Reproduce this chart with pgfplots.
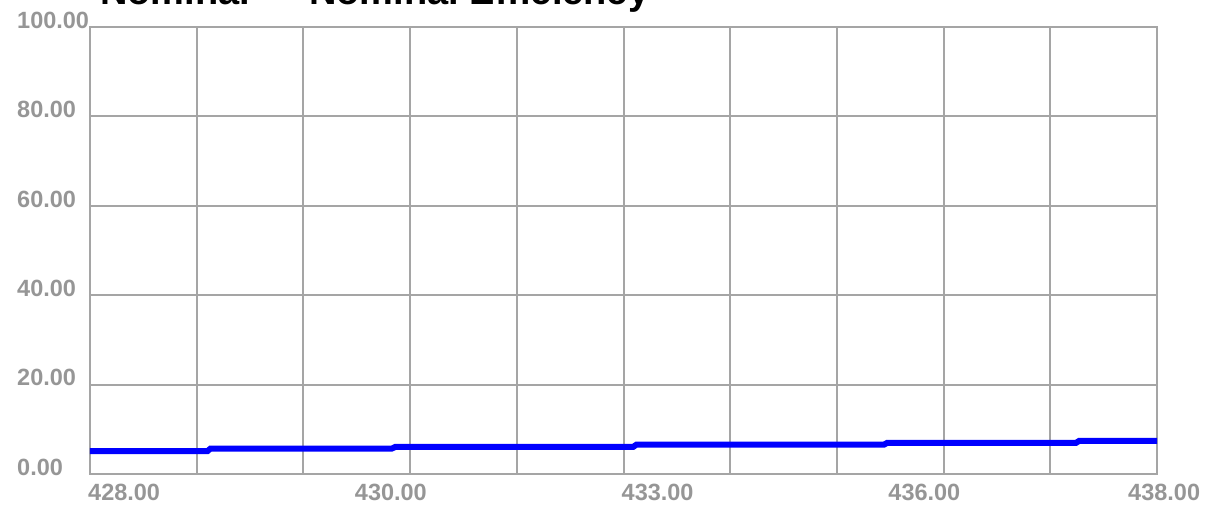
\documentclass[border=0pt]{standalone}
\usepackage{pgfplots}
\pgfplotsset{compat=1.18}
\usepackage{fontspec}
\setmainfont{Liberation Sans}
\definecolor{gridgray}{RGB}{165,165,165}
\definecolor{tickgray}{RGB}{150,150,150}
\definecolor{lineblue}{RGB}{0,0,255}
\begin{document}
\begin{tikzpicture}
\useasboundingbox (-90pt,-30pt) rectangle (1120pt,474pt);
\node[anchor=base west, inner sep=0pt, font=\fontsize{38}{38}\selectfont\bfseries] at (10pt,469.5pt) {Nominal — Nominal Efficiency};
\begin{axis}[
  at={(0,0)}, anchor=south west,
  scale only axis, width=1067pt, height=447pt,
  xmin=428, xmax=438, ymin=0, ymax=100,
  xtick={428,...,438}, xticklabels={},
  ytick={0,20,...,100},
  yticklabels={0.00,20.00,40.00,60.00,80.00,100.00},
  grid=major, major grid style={gridgray, line width=2pt},
  axis line style={gridgray, line width=2pt},
  major tick length=0pt,
  tick label style={font=\fontsize{23.5}{23.5}\selectfont\bfseries, text=tickgray, inner sep=0pt},
  yticklabel style={anchor=base west, xshift=-73pt, yshift=-1.3pt},
  extra x ticks={428,430.5,433,435.5,438},
  extra x tick labels={428.00,430.00,433.00,436.00,\hspace*{-27pt}438.00},
  extra x tick style={grid=none, xticklabel style={anchor=north west, xshift=-2pt, yshift=-10pt}},
]
\addplot[lineblue, line width=6pt] coordinates {
  (428,5.1) (429.10,5.1) (429.13,5.7) (430.83,5.7) (430.86,6.05)
  (433.09,6.05) (433.12,6.55) (435.44,6.55) (435.47,6.95)
  (437.24,6.95) (437.27,7.4) (438,7.4)
};
\end{axis}
\end{tikzpicture}
\end{document}
